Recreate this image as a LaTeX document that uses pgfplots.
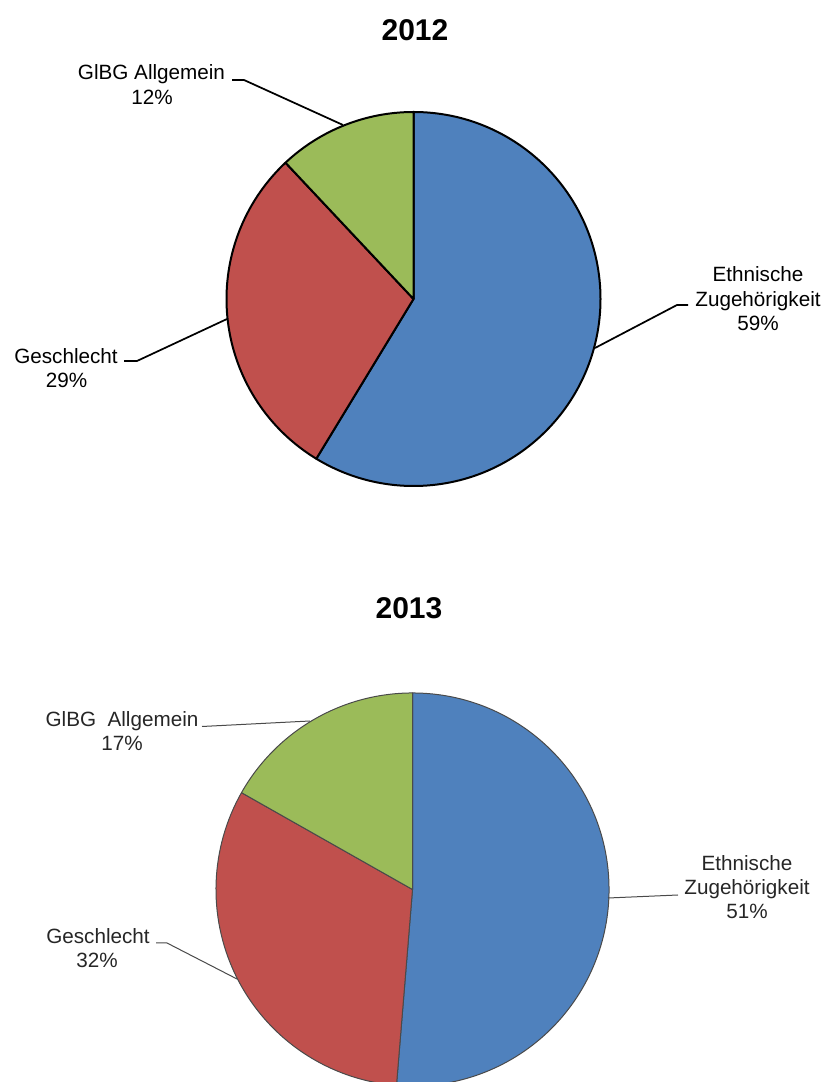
\documentclass[border=0pt]{standalone}
\usepackage{pgfplots}
\usepackage{pgfplotstable}
\pgfplotsset{compat=1.18}
\usepackage{fontspec}
\setmainfont{Liberation Sans}
\definecolor{pieblue}{HTML}{4F81BD}
\definecolor{piered}{HTML}{C0504D}
\definecolor{piegreen}{HTML}{9BBB59}
\definecolor{txtgray}{HTML}{262626}
\definecolor{lngray}{HTML}{4A4A4A}
\newcommand\lab{\fontsize{15.5}{18}\selectfont}
\newcommand\ttl{\fontsize{22.5}{27}\selectfont\bfseries}

% shares in percent, 2012 and 2013
\pgfplotstableread{
share label
58.7 Ethnische_Zugehoerigkeit
29.3 Geschlecht
12.0 GlBG_Allgemein
}\pieA
\pgfplotstableread{
share label
51.3 Ethnische_Zugehoerigkeit
31.9 Geschlecht
16.8 GlBG_Allgemein
}\pieB

\begin{document}
\begin{tikzpicture}
\pgfplotstablegetelem{0}{share}\of\pieA \pgfmathsetmacro\aAi{90-3.6*\pgfplotsretval}
\pgfplotstablegetelem{1}{share}\of\pieA \pgfmathsetmacro\aAii{\aAi-3.6*\pgfplotsretval}
\pgfplotstablegetelem{2}{share}\of\pieA \pgfmathsetmacro\aAiii{\aAii-3.6*\pgfplotsretval}
\pgfplotstablegetelem{0}{share}\of\pieB \pgfmathsetmacro\aBi{90-3.6*\pgfplotsretval}
\pgfplotstablegetelem{1}{share}\of\pieB \pgfmathsetmacro\aBii{\aBi-3.6*\pgfplotsretval}
\pgfplotstablegetelem{2}{share}\of\pieB \pgfmathsetmacro\aBiii{\aBii-3.6*\pgfplotsretval}
\begin{axis}[name=ax, x=0.75pt, y=0.75pt, xmin=0, xmax=829, ymin=0, ymax=1082,
  hide axis, clip=true]
% ---------- 2012 ----------
\filldraw[fill=pieblue, draw=black, line width=1.5pt, line join=round]
  (axis cs:413.5,783) -- ++(90:140.25pt) arc[start angle=90, end angle=\aAi, radius=140.25pt] -- cycle;
\filldraw[fill=piered, draw=black, line width=1.5pt, line join=round]
  (axis cs:413.5,783) -- ++(\aAi:140.25pt) arc[start angle=\aAi, end angle=\aAii, radius=140.25pt] -- cycle;
\filldraw[fill=piegreen, draw=black, line width=1.5pt, line join=round]
  (axis cs:413.5,783) -- ++(\aAii:140.25pt) arc[start angle=\aAii, end angle=\aAiii, radius=140.25pt] -- cycle;
\node[anchor=base, inner sep=0pt, font=\ttl] at (axis cs:415,1041) {2012};
\draw[line width=1.3pt] (axis cs:232,1002) -- (axis cs:244,1002) -- (axis cs:343,957);
\node[anchor=base, inner sep=0pt, font=\lab] at (axis cs:151.5,1002) {GlBG Allgemein};
\node[anchor=base, inner sep=0pt, font=\lab] at (axis cs:152,977) {12\%};
\draw[line width=1.3pt] (axis cs:595,734) -- (axis cs:677,777) -- (axis cs:688,777);
\node[anchor=base, inner sep=0pt, font=\lab] at (axis cs:758,800) {Ethnische};
\node[anchor=base, inner sep=0pt, font=\lab] at (axis cs:758,775.5) {Zugehörigkeit};
\node[anchor=base, inner sep=0pt, font=\lab] at (axis cs:758,751) {59\%};
\draw[line width=1.3pt] (axis cs:124,721) -- (axis cs:137,721) -- (axis cs:227,763);
\node[anchor=base, inner sep=0pt, font=\lab] at (axis cs:66,718) {Geschlecht};
\node[anchor=base, inner sep=0pt, font=\lab] at (axis cs:66.5,694) {29\%};
% ---------- 2013 ----------
\filldraw[fill=pieblue, draw=lngray, line width=0.75pt, line join=round]
  (axis cs:412.5,192.5) -- ++(90:147.4pt) arc[start angle=90, end angle=\aBi, radius=147.4pt] -- cycle;
\filldraw[fill=piered, draw=lngray, line width=0.75pt, line join=round]
  (axis cs:412.5,192.5) -- ++(\aBi:147.4pt) arc[start angle=\aBi, end angle=\aBii, radius=147.4pt] -- cycle;
\filldraw[fill=piegreen, draw=lngray, line width=0.75pt, line join=round]
  (axis cs:412.5,192.5) -- ++(\aBii:147.4pt) arc[start angle=\aBii, end angle=\aBiii, radius=147.4pt] -- cycle;
\node[anchor=base, inner sep=0pt, font=\ttl] at (axis cs:409,463) {2013};
\draw[lngray, line width=0.75pt] (axis cs:202,355.5) -- (axis cs:310,361);
\node[anchor=base, inner sep=0pt, font=\lab, text=txtgray] at (axis cs:122,355) {GlBG\ \ Allgemein};
\node[anchor=base, inner sep=0pt, font=\lab, text=txtgray] at (axis cs:122,331) {17\%};
\draw[lngray, line width=0.75pt] (axis cs:608,184) -- (axis cs:678,187);
\node[anchor=base, inner sep=0pt, font=\lab, text=txtgray] at (axis cs:747,211.5) {Ethnische};
\node[anchor=base, inner sep=0pt, font=\lab, text=txtgray] at (axis cs:747,187.5) {Zugehörigkeit};
\node[anchor=base, inner sep=0pt, font=\lab, text=txtgray] at (axis cs:747,163.5) {51\%};
\draw[lngray, line width=0.75pt] (axis cs:156,139) -- (axis cs:167,139) -- (axis cs:237,103);
\node[anchor=base, inner sep=0pt, font=\lab, text=txtgray] at (axis cs:98,138) {Geschlecht};
\node[anchor=base, inner sep=0pt, font=\lab, text=txtgray] at (axis cs:97,114) {32\%};
\end{axis}
\pgfresetboundingbox
\path (ax.south west) rectangle (ax.north east);
\end{tikzpicture}
\end{document}
